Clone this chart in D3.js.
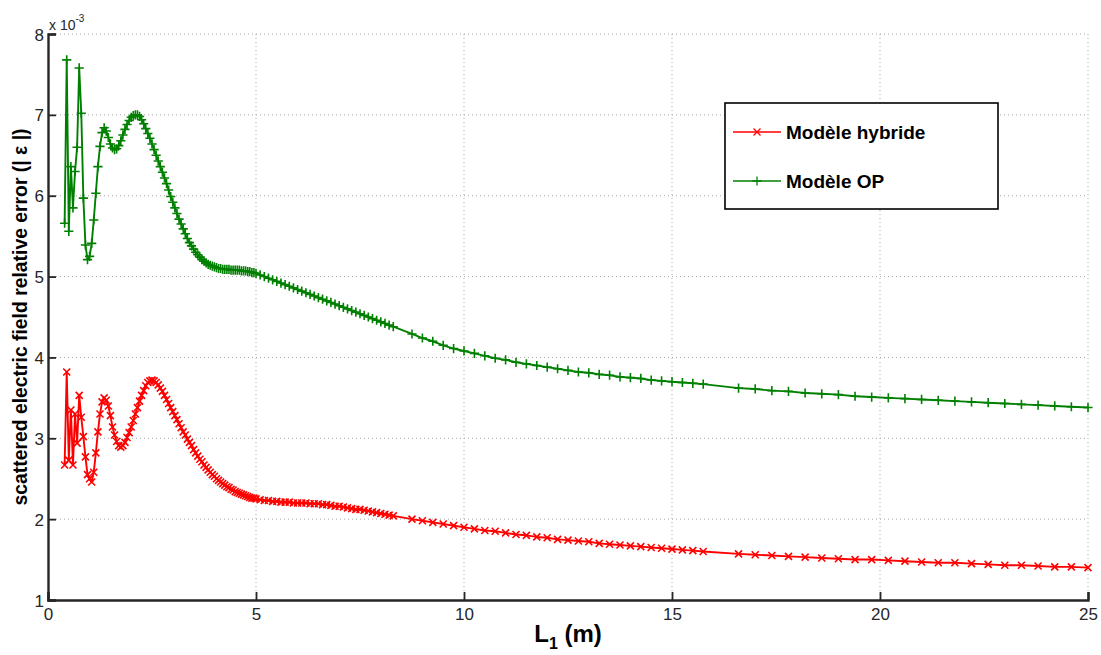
<!DOCTYPE html>
<html>
<head>
<meta charset="utf-8">
<script src="https://cdn.jsdelivr.net/npm/d3@7"></script>
<style>
  html, body { margin: 0; padding: 0; background: #fff; }
  svg { display: block; font-family: "Liberation Sans", Arial, sans-serif; }
</style>
</head>
<body>
<svg id="chart" width="1101" height="655"></svg>
<script>
// ---- data (L1 in m, error in units of 1e-3) ----
const L1 = [
  0.40,0.45,0.50,0.55,0.60,0.65,0.70,0.75,0.80,0.85,0.90,0.95,
  1.00,1.05,1.10,1.15,1.20,1.25,1.30,1.35,1.40,1.45,1.50,1.55,1.60,1.65,1.70,1.75,1.80,1.85,1.90,1.95,
  2.00,2.05,2.10,2.15,2.20,2.25,2.30,2.35,2.40,2.45,2.50,2.55,2.60,2.65,2.70,2.75,2.80,2.85,2.90,2.95,
  3.00,3.05,3.10,3.15,3.20,3.25,3.30,3.35,3.40,3.45,3.50,3.55,3.60,3.65,3.70,3.75,3.80,3.85,3.90,3.95,
  4.00,4.05,4.10,4.15,4.20,4.25,4.30,4.35,4.40,4.45,4.50,4.55,4.60,4.65,4.70,4.75,4.80,4.85,4.90,4.95,
  5.00,
  5.1,5.2,5.3,5.4,5.5,5.6,5.7,5.8,5.9,6.0,6.1,6.2,6.3,6.4,6.5,6.6,6.7,6.8,6.9,7.0,
  7.1,7.2,7.3,7.4,7.5,7.6,7.7,7.8,7.9,8.0,8.1,8.2,8.3,
  8.75,9.00,9.25,9.50,9.75,10.00,10.25,10.50,10.75,11.00,11.25,11.50,11.75,12.00,12.25,12.50,
  12.75,13.00,13.25,13.50,13.75,14.00,14.25,14.50,14.75,15.00,15.25,15.50,15.75,
  16.6,17.0,17.4,17.8,18.2,18.6,19.0,19.4,19.8,20.2,20.6,21.0,21.4,21.8,22.2,22.6,23.0,23.4,23.8,24.2,24.6,25.0
];
const hybride = [
  2.67,3.82,2.73,3.35,2.67,3.30,2.94,3.53,3.26,3.02,2.77,2.55,
  2.50,2.46,2.58,2.82,3.08,3.30,3.45,3.50,3.47,3.40,3.28,3.14,3.04,2.96,2.91,2.89,2.91,2.95,3.01,3.07,
  3.14,3.22,3.30,3.38,3.46,3.53,3.59,3.65,3.69,3.71,3.72,3.71,3.69,3.66,3.62,3.58,3.53,3.48,3.43,3.38,
  3.33,3.28,3.23,3.18,3.13,3.08,3.04,2.99,2.95,2.91,2.86,2.82,2.78,2.74,2.71,2.67,2.64,2.61,2.58,2.55,
  2.53,2.50,2.48,2.46,2.44,2.42,2.40,2.39,2.37,2.36,2.34,2.33,2.32,2.31,2.30,2.29,2.28,2.27,2.26,2.26,
  2.25,
  2.24,2.23,2.23,2.22,2.22,2.21,2.21,2.21,2.20,2.20,2.20,2.20,2.19,2.19,2.19,2.18,2.18,2.17,2.16,2.16,
  2.15,2.14,2.13,2.12,2.12,2.11,2.10,2.09,2.08,2.07,2.06,2.05,2.04,
  2.00,1.98,1.96,1.94,1.92,1.90,1.88,1.86,1.85,1.83,1.81,1.80,1.78,1.77,1.75,1.74,
  1.73,1.72,1.70,1.69,1.68,1.67,1.66,1.65,1.64,1.63,1.62,1.61,1.60,
  1.57,1.56,1.55,1.54,1.53,1.52,1.51,1.50,1.50,1.49,1.48,1.47,1.46,1.46,1.45,1.44,1.43,1.43,1.42,1.41,1.41,1.40
];
const modeleOP = [
  5.66,7.68,5.56,6.36,5.85,6.30,6.60,7.58,7.02,5.97,5.39,5.21,
  5.25,5.41,5.70,6.03,6.36,6.61,6.78,6.84,6.80,6.72,6.64,6.59,6.57,6.58,6.62,6.68,6.75,6.82,6.88,6.93,
  6.97,6.99,7.00,7.00,6.98,6.94,6.89,6.83,6.77,6.71,6.64,6.57,6.50,6.43,6.36,6.29,6.22,6.15,6.07,5.99,
  5.92,5.85,5.78,5.71,5.65,5.59,5.53,5.47,5.42,5.38,5.34,5.30,5.27,5.24,5.21,5.19,5.17,5.15,5.14,5.13,
  5.12,5.11,5.10,5.10,5.09,5.09,5.09,5.09,5.08,5.08,5.08,5.08,5.08,5.07,5.07,5.07,5.06,5.06,5.05,5.05,
  5.04,
  5.02,5.00,4.98,4.96,4.94,4.92,4.90,4.88,4.86,4.84,4.82,4.80,4.78,4.76,4.74,4.72,4.70,4.68,4.66,4.64,
  4.62,4.60,4.58,4.56,4.54,4.52,4.50,4.48,4.46,4.44,4.42,4.40,4.38,
  4.29,4.24,4.20,4.15,4.11,4.08,4.05,4.02,3.99,3.97,3.94,3.92,3.90,3.88,3.86,3.84,
  3.82,3.81,3.79,3.78,3.76,3.75,3.74,3.72,3.71,3.70,3.69,3.68,3.67,
  3.62,3.61,3.59,3.58,3.56,3.55,3.54,3.52,3.51,3.50,3.49,3.48,3.47,3.46,3.45,3.44,3.43,3.42,3.41,3.40,3.39,3.38
];
const xTicks = [0, 5, 10, 15, 20, 25];
const yTicks = [1, 2, 3, 4, 5, 6, 7, 8];
const seriesNames = ["Modèle hybride", "Modèle OP"];

(function () {
  // ---- layout ----
  const svg = d3.select("#chart");
  const mL = 48, mR = 1088, mT = 34, mB = 600;
  const x = d3.scaleLinear().domain([0, 25]).range([mL, mR]);
  const y = d3.scaleLinear().domain([1, 8]).range([mB, mT]);
  const axisColor = "#262626";

  // grid
  const grid = svg.append("g");
  grid.selectAll("line.gx").data(xTicks.filter(d => d > 0)).enter().append("line")
    .attr("x1", d => x(d)).attr("x2", d => x(d)).attr("y1", mT).attr("y2", mB)
    .attr("stroke", "#a8a8a8").attr("stroke-width", 1).attr("stroke-dasharray", "1,3");
  grid.selectAll("line.gy").data(yTicks.filter(d => d > 1)).enter().append("line")
    .attr("y1", d => y(d)).attr("y2", d => y(d)).attr("x1", mL).attr("x2", mR)
    .attr("stroke", "#a8a8a8").attr("stroke-width", 1).attr("stroke-dasharray", "1,3");

  // axes
  const xAxis = d3.axisBottom(x).tickValues(xTicks).tickSize(-8).tickPadding(8).tickFormat(d3.format("d"));
  const yAxis = d3.axisLeft(y).tickValues(yTicks).tickSize(-8).tickPadding(4).tickFormat(d3.format("d"));
  const gx = svg.append("g").attr("transform", `translate(0,${mB})`).call(xAxis);
  const gy = svg.append("g").attr("transform", `translate(${mL},0)`).call(yAxis);
  [gx, gy].forEach(g => {
    g.select(".domain").attr("stroke", axisColor).attr("stroke-width", 2.4);
    g.selectAll(".tick line").attr("stroke", axisColor).attr("stroke-width", 1.8);
    g.selectAll(".tick text").attr("fill", axisColor).style("font-size", "17px")
      .style("font-family", "'Liberation Sans', Arial, sans-serif");
  });
  gy.selectAll(".tick text").attr("dy", "0.36em");

  // multiplier
  const mult = svg.append("text").attr("x", 49).attr("y", 30).attr("fill", axisColor)
    .style("font-size", "14px");
  mult.append("tspan").text("x 10");
  mult.append("tspan").attr("dy", -8).style("font-size", "10px").text("-3");

  // axis labels
  const xl = svg.append("text").attr("x", 568).attr("y", 642).attr("text-anchor", "middle")
    .attr("fill", "#000").style("font-size", "24px").style("font-weight", "bold");
  xl.append("tspan").text("L");
  xl.append("tspan").attr("dy", 7).style("font-size", "16px").text("1");
  xl.append("tspan").attr("dy", -7).text(" (m)");

  const yl = svg.append("text").attr("transform", `translate(27,317) rotate(-90)`)
    .attr("text-anchor", "middle").attr("fill", "#000")
    .style("font-size", "20px").style("font-weight", "bold")
    .text("scattered electric field relative error (| ε |)");
  const len = yl.node().getComputedTextLength();
  if (len > 0) yl.style("font-size", (20 * 377 / len).toFixed(2) + "px");

  // series
  const lineGen = vals => d3.line().x((d, i) => x(L1[i])).y(d => y(d))(vals);
  const red = "#ff0000", green = "#008000";

  svg.append("path").attr("d", lineGen(hybride)).attr("fill", "none")
    .attr("stroke", red).attr("stroke-width", 1.9).attr("stroke-linejoin", "round");
  svg.append("path").attr("d", lineGen(modeleOP)).attr("fill", "none")
    .attr("stroke", green).attr("stroke-width", 1.9).attr("stroke-linejoin", "round");

  const xs = 3.5, ps = 4.6;
  const crossPath = (cx, cy) => `M${cx - xs},${cy - xs}L${cx + xs},${cy + xs}M${cx - xs},${cy + xs}L${cx + xs},${cy - xs}`;
  const plusPath = (cx, cy) => `M${cx - ps},${cy}L${cx + ps},${cy}M${cx},${cy - ps}L${cx},${cy + ps}`;

  svg.append("g").selectAll("path").data(hybride).enter().append("path")
    .attr("d", (d, i) => crossPath(x(L1[i]), y(d)))
    .attr("stroke", red).attr("stroke-width", 1.6).attr("fill", "none");
  svg.append("g").selectAll("path").data(modeleOP).enter().append("path")
    .attr("d", (d, i) => plusPath(x(L1[i]), y(d)))
    .attr("stroke", green).attr("stroke-width", 1.6).attr("fill", "none");

  // legend
  const lg = svg.append("g");
  lg.append("rect").attr("x", 725).attr("y", 103).attr("width", 273).attr("height", 106)
    .attr("fill", "#fff").attr("stroke", "#000").attr("stroke-width", 1.6);
  const legendItems = [
    { name: seriesNames[0], color: red, marker: crossPath, yy: 132 },
    { name: seriesNames[1], color: green, marker: plusPath, yy: 181 }
  ];
  legendItems.forEach(it => {
    lg.append("line").attr("x1", 733).attr("x2", 781).attr("y1", it.yy).attr("y2", it.yy)
      .attr("stroke", it.color).attr("stroke-width", 1.4);
    lg.append("path").attr("d", it.marker(757, it.yy)).attr("stroke", it.color)
      .attr("stroke-width", 1.3).attr("fill", "none");
    lg.append("text").attr("x", 786).attr("y", it.yy).attr("dy", "0.36em")
      .attr("fill", "#000").style("font-size", "19px").style("font-weight", "bold").text(it.name);
  });
})();
</script>
</body>
</html>
